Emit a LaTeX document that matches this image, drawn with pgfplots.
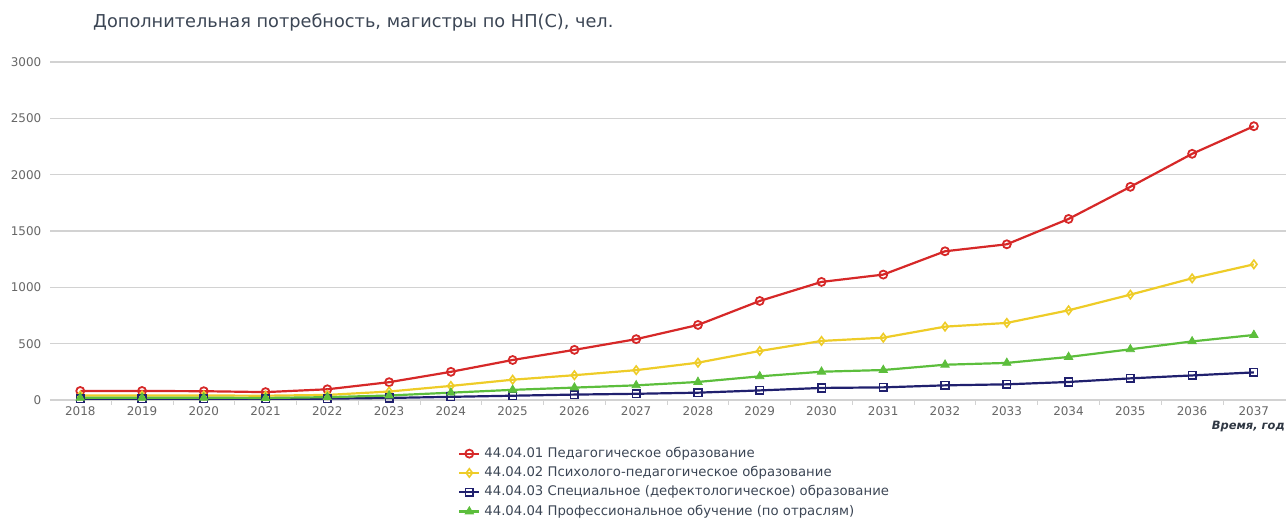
\documentclass[border=0pt]{standalone}
\usepackage{pgfplots}
\pgfplotsset{compat=1.18}
\usepackage{fontspec}
\setmainfont{DejaVu Sans}
\definecolor{cred}{RGB}{214,40,40}
\definecolor{cyel}{RGB}{238,204,40}
\definecolor{cnavy}{RGB}{32,32,110}
\definecolor{cgreen}{RGB}{92,190,60}
\definecolor{ctxt}{RGB}{60,70,85}
\definecolor{cgrid}{RGB}{210,210,210}
\pgfplotstableread{
year red yel navy green
2018 80 40 10 20
2019 80 40 10 20
2020 78 40 10 20
2021 70 38 10 18
2022 95 45 12 25
2023 158 75 18 40
2024 250 125 28 65
2025 355 180 38 90
2026 445 220 48 110
2027 540 265 55 130
2028 666 331 65 160
2029 879 435 85 210
2030 1048 524 107 251
2031 1113 553 112 266
2032 1320 651 130 313
2033 1382 684 139 329
2034 1607 796 160 382
2035 1892 935 192 450
2036 2185 1080 218 520
2037 2430 1204 245 577
}\data
\begin{document}
\begin{tikzpicture}[x=1bp,y=1bp]
\path[use as bounding box] (0,0) rectangle (1286,519);
\node[anchor=base west, text=ctxt, font=\fontsize{17.8}{21}\selectfont, inner sep=0pt] at (93,491) {Дополнительная потребность, магистры по НП(С), чел.};
\begin{axis}[
  at={(50bp,119bp)}, anchor=south west,
  scale only axis, width=1236bp, height=338bp,
  xmin=2017.51, xmax=2037.52, ymin=0, ymax=3000,
  axis x line*=bottom, axis y line*=left,
  y axis line style={draw=none},
  x axis line style={draw=cgrid, line width=1.2bp},
  xtick={2018,...,2037},
  minor xtick={2018.5,2019.5,...,2036.5},
  major x tick style={draw=none},
  minor x tick style={draw=cgrid, line width=0.8bp},
  minor tick length=5bp,
  tick align=outside,
  ytick={0,500,...,3000},
  major y tick style={draw=none},
  ymajorgrids, grid style={draw=cgrid, line width=1.5bp},
  /pgf/number format/assume math mode=true,
  /pgf/number format/1000 sep={},
  ticklabel style={font=\fontsize{12}{14}\selectfont, text=black!60},
  yticklabel style={xshift=-1bp},
  xticklabel style={yshift=1bp},
  legend cell align=left,
  legend style={at={(axis description cs:0.3277,-0.133)}, anchor=north west, draw=none, fill=none,
    font=\fontsize{13.3}{16}\selectfont, text=ctxt,
    nodes={inner sep=0pt, text height=10bp, text depth=3bp},
    row sep=6.3bp, column sep=4bp},
  legend image code/.code={\draw[mark repeat=2,mark phase=2,#1] plot coordinates {(0bp,0bp) (10bp,0bp) (20bp,0bp)};},
  every axis plot/.append style={line width=2.2bp},
  clip=false,
]
\addplot[cred, mark=o, mark size=4bp, mark options={fill=white, line width=1.8bp}] table[x=year,y=red] {\data};
\addlegendentry{44.04.01 Педагогическое образование}
\addplot[cyel, mark=diamond, mark size=4.2bp, mark options={fill=white, line width=1.6bp}] table[x=year,y=yel] {\data};
\addlegendentry{44.04.02 Психолого-педагогическое образование}
\addplot[cnavy, mark=square, mark size=3.8bp, mark options={fill=white, line width=1.6bp}] table[x=year,y=navy] {\data};
\addlegendentry{44.04.03 Специальное (дефектологическое) образование}
\addplot[cgreen, mark=triangle*, mark size=4.8bp, mark options={line width=0.8bp}] table[x=year,y=green] {\data};
\addlegendentry{44.04.04 Профессиональное обучение (по отраслям)}
\end{axis}
\node[anchor=base east, font=\bfseries\itshape\fontsize{11.5}{13}\selectfont, text=ctxt!80!black, inner sep=0pt] at (1285,89) {Время, год};
\end{tikzpicture}
\end{document}
